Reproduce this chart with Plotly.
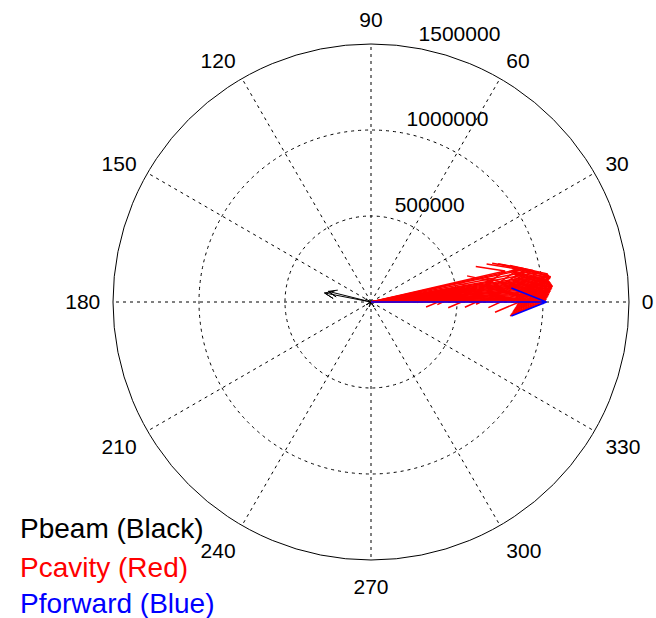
import math
import plotly.graph_objects as go

# ---- data (magnitude in W, angle in degrees) ----
pbeam_mag = [275000, 255000, 35000, 30000, 28000, 32000]
pbeam_ang = [169, 166, 150, 210, 250, 300]

pcav_mag = [1010000, 1015000, 1020000, 1025000, 1030000, 1035000, 1040000, 1045000,
            1050000, 1055000, 1060000, 1055000, 1050000, 1045000, 1040000, 1050000,
            1055000, 1045000, 1040000,
            990000, 960000, 920000, 880000, 840000, 800000, 760000, 720000,
            680000, 620000, 560000, 480000, 400000, 330000, 900000, 850000]
pcav_ang = [0, 0.5, 1, 1.5, 2, 2.5, 3, 3.5, 4, 4.5, 5, 5.5, 6, 6.5, 7, 7.5,
            8, 8.5, 9,
            10, 11, 12, 12.5, 6.5, 13, 4.5, 9.5, 2.5, 7.5, 1.5, 3.5, 0.5, 5, 1, 3]

pfwd_mag = [1020000]
pfwd_ang = [0]

radial_ticks = [500000, 1000000, 1500000]
angle_ticks = list(range(0, 360, 30))

RMAX = 1500000
FONT = "Liberation Sans, Arial, sans-serif"


def compass(mags, angs):
    """MATLAB compass-style arrows: shaft plus two head strokes."""
    head_r = math.hypot(0.8, 0.08)
    head_a = math.degrees(math.atan2(0.08, 0.8))
    r, t = [], []
    for m, a in zip(mags, angs):
        r += [0, m, head_r * m, m, head_r * m, None]
        t += [a, a, a + head_a, a, a - head_a, None]
    return r, t


fig = go.Figure()
for mags, angs, col, w in [(pbeam_mag, pbeam_ang, "black", 1),
                           (pcav_mag, pcav_ang, "#ff0000", 1.5),
                           (pfwd_mag, pfwd_ang, "#0000ff", 1.6)]:
    r, t = compass(mags, angs)
    fig.add_trace(go.Scatterpolar(r=r, theta=t, mode="lines",
                                  line=dict(color=col, width=w),
                                  hoverinfo="skip", showlegend=False,
                                  connectgaps=False))

# radial tick labels (MATLAB places them near 82 degrees)
fig.add_trace(go.Scatterpolar(r=radial_ticks, theta=[82] * 3, mode="text",
                              text=["  " + str(v) for v in radial_ticks],
                              textposition="top right",
                              textfont=dict(family=FONT, size=21, color="black"),
                              hoverinfo="skip", showlegend=False))

fig.update_layout(
    width=656, height=618,
    paper_bgcolor="white", plot_bgcolor="white",
    margin=dict(l=0, r=0, t=0, b=0),
    showlegend=False,
    font=dict(family=FONT, size=21, color="black"),
    polar=dict(
        domain=dict(x=[113 / 656, 629 / 656], y=[1 - 560 / 618, 1 - 44 / 618]),
        bgcolor="white",
        radialaxis=dict(range=[0, RMAX], tickvals=radial_ticks[:2],
                        showticklabels=False, ticks="", showline=False,
                        gridcolor="black", griddash="3px,4px", gridwidth=1),
        angularaxis=dict(tickvals=angle_ticks,
                         ticktext=[str(a) for a in angle_ticks],
                         direction="counterclockwise", rotation=0,
                         showline=True, linecolor="black", linewidth=1,
                         gridcolor="black", griddash="3px,4px", gridwidth=1,
                         ticks="outside", ticklen=8, tickcolor="rgba(0,0,0,0)",
                         tickfont=dict(family=FONT, size=21, color="black")),
    ),
)

legend_items = [("Pbeam (Black)", "black", 1 - 528 / 618),
                ("Pcavity (Red)", "#ff0000", 1 - 567 / 618),
                ("Pforward (Blue)", "#0000ff", 1 - 603 / 618)]
for txt, col, yy in legend_items:
    fig.add_annotation(text=txt, x=18 / 656, y=yy, xref="paper", yref="paper",
                       xanchor="left", yanchor="middle", showarrow=False,
                       font=dict(family=FONT, size=28, color=col))

fig.write_html("out.html", config={"displayModeBar": False},
               post_script="document.body.style.margin='0';")
